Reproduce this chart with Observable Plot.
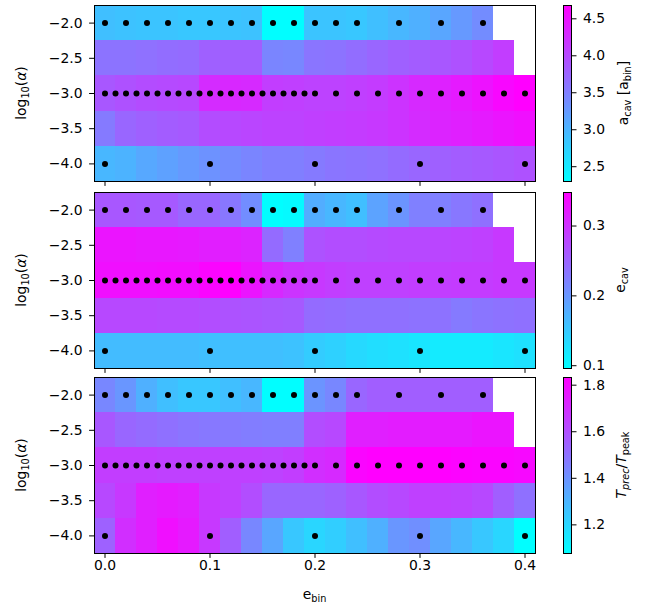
<!DOCTYPE html>
<html><head><meta charset="utf-8">
<script src="https://cdn.jsdelivr.net/npm/d3@7"></script>
<script src="https://cdn.jsdelivr.net/npm/@observablehq/plot@0.6"></script>
<style>
body{margin:0;background:#fff;}
#fig{position:relative;width:649px;height:610px;font-family:"DejaVu Sans",sans-serif;color:#000;overflow:hidden;}
#fig svg{position:absolute;overflow:visible;}
.lab{position:absolute;font-size:13.9px;white-space:nowrap;line-height:1;}
.rot{transform:translate(-50%,-50%) rotate(-90deg);}
.ctr{transform:translate(-50%,-50%);}
.sb{font-size:0.7em;vertical-align:-0.28em;}
</style></head><body><div id="fig"></div>
<script>
// ---------- data ----------
const eCells = [0,0.02,0.04,0.06,0.08,0.10,0.12,0.14,0.16,0.18,0.20,0.22,0.24,0.26,0.28,0.30,0.32,0.34,0.36,0.38,0.40];
const logAlphaRows = [-2,-2.5,-3,-3.5,-4];
const xTicks = [0,0.1,0.2,0.3,0.4];
const yTicks = [-4,-3.5,-3,-2.5,-2];

// simulated points
const dotE_m2 = [0,0.02,0.04,0.06,0.08,0.10,0.12,0.14,0.16,0.18,0.20,0.22,0.24,0.28,0.32,0.36];
const dotE_m3 = [0,0.01,0.02,0.03,0.04,0.05,0.06,0.07,0.08,0.09,0.10,0.11,0.12,0.13,0.14,0.15,0.16,0.17,0.18,0.19,0.20,0.22,0.24,0.26,0.28,0.30,0.32,0.34,0.36,0.38,0.40];
const dotE_m4 = [0,0.1,0.2,0.3,0.4];

// panel 1: a_cav [a_bin], rows log10(alpha) = -2, -2.5, -3, -3.5, -4
const aCav = [
  [2.90,2.87,2.85,2.85,2.82,2.82,2.85,2.87,2.31,2.31,2.85,2.85,2.82,2.90,2.97,3.04,3.13,3.25,3.37],
  [3.61,3.61,3.63,3.66,3.68,3.78,3.80,3.80,3.44,3.42,3.59,3.61,3.66,3.73,3.78,3.82,3.87,3.92,4.01,4.11],
  [3.87,3.92,3.97,3.99,4.01,4.28,4.32,4.30,4.11,4.09,4.06,4.06,4.09,4.13,4.20,4.30,4.37,4.44,4.51,4.61,4.68],
  [3.54,3.73,3.78,3.82,3.85,3.97,4.01,4.04,4.06,4.06,4.09,4.11,4.13,4.16,4.20,4.28,4.35,4.39,4.44,4.49,4.54],
  [2.97,3.01,3.11,3.18,3.25,3.32,3.37,3.44,3.49,3.49,3.54,3.59,3.61,3.63,3.68,3.73,3.78,3.82,3.85,3.89,3.92]
];
const aCavDomain = [2.30, 4.68];
const aCavTicks = [2.5,3.0,3.5,4.0,4.5];

// panel 2: e_cav
const eCav = [
  [0.262,0.262,0.260,0.260,0.247,0.247,0.230,0.209,0.097,0.101,0.177,0.167,0.159,0.187,0.202,0.222,0.222,0.230,0.237],
  [0.328,0.328,0.325,0.325,0.323,0.318,0.318,0.313,0.242,0.222,0.267,0.272,0.272,0.275,0.277,0.277,0.280,0.282,0.285,0.293],
  [0.333,0.333,0.333,0.335,0.335,0.343,0.348,0.328,0.308,0.298,0.293,0.288,0.285,0.285,0.285,0.288,0.288,0.290,0.290,0.293,0.293],
  [0.277,0.277,0.277,0.275,0.275,0.272,0.267,0.265,0.262,0.260,0.242,0.240,0.237,0.237,0.237,0.235,0.235,0.227,0.232,0.235,0.237],
  [0.162,0.162,0.162,0.162,0.162,0.159,0.159,0.159,0.159,0.156,0.146,0.141,0.134,0.129,0.126,0.121,0.116,0.116,0.116,0.121,0.126]
];
const eCavDomain = [0.096, 0.348];
const eCavTicks = [0.1,0.2,0.3];

// panel 3: T_prec / T_peak
const tRatio = [
  [1.432,1.387,1.311,1.266,1.243,1.243,1.266,1.289,1.080,1.080,1.395,1.432,1.531,1.553,1.553,1.553,1.553,1.553,1.553],
  [1.576,1.531,1.515,1.500,1.485,1.478,1.470,1.463,1.455,1.455,1.606,1.621,1.742,1.742,1.750,1.750,1.757,1.757,1.773,1.773],
  [1.652,1.652,1.652,1.644,1.644,1.644,1.644,1.644,1.636,1.652,1.697,1.712,1.818,1.833,1.833,1.833,1.833,1.825,1.818,1.818,1.810],
  [1.621,1.667,1.742,1.757,1.742,1.667,1.644,1.606,1.531,1.531,1.531,1.546,1.576,1.606,1.621,1.644,1.644,1.636,1.621,1.553,1.500],
  [1.546,1.697,1.742,1.788,1.757,1.667,1.553,1.432,1.342,1.243,1.198,1.221,1.266,1.311,1.387,1.410,1.342,1.289,1.243,1.198,1.080]
];
const tRatioDomain = [1.077, 1.833];
const tRatioTicks = [1.2,1.4,1.6,1.8];

// ---------- drawing ----------
const fig = document.getElementById("fig");
const cellW = 0.02, cellH = 0.5;
const panelTops = [5, 192, 377];
const PH = 176;
const font = '"DejaVu Sans", sans-serif';
const fmt1 = d3.format(".1f");

function cellsFrom(grid) {
  const out = [];
  grid.forEach((row, r) => row.forEach((v, c) => {
    if (v != null) out.push({e: eCells[c], la: logAlphaRows[r], v});
  }));
  return out;
}
const dots = [
  ...dotE_m2.map(e => ({e, la: logAlphaRows[0]})),
  ...dotE_m3.map(e => ({e, la: logAlphaRows[2]})),
  ...dotE_m4.map(e => ({e, la: logAlphaRows[4]}))
];
function colorScale(dom) {
  return {type: "linear", domain: dom, range: ["#00ffff", "#ff00ff"], interpolate: "rgb", clamp: true};
}

function panel(grid, dom, i) {
  const last = i === 2;
  const mt = 2, mb = last ? 40 : 8;
  const p = Plot.plot({
    width: 545, height: PH + mt + mb,
    marginLeft: 94, marginRight: 10, marginTop: mt, marginBottom: mb,
    style: {fontFamily: font, fontSize: "13.9px", color: "black", background: "none", overflow: "visible"},
    x: {domain: [-0.01, 0.41]},
    y: {domain: [-4.25, -1.75]},
    color: colorScale(dom),
    marks: [
      Plot.rect(cellsFrom(grid), {
        x1: d => d.e - cellW / 2, x2: d => d.e + cellW / 2,
        y1: d => d.la - cellH / 2, y2: d => d.la + cellH / 2,
        fill: "v", shapeRendering: "crispEdges"
      }),
      Plot.dot(dots, {x: "e", y: "la", r: 3, fill: "black"}),
      Plot.frame({stroke: "black", strokeWidth: 1}),
      Plot.axisY({ticks: yTicks, tickFormat: fmt1, tickSize: 4.9, tickPadding: 7, label: null}),
      Plot.axisX({ticks: xTicks, tickFormat: last ? fmt1 : () => "", tickSize: 4.9, tickPadding: 1.5, label: null})
    ]
  });
  p.style.left = "0px";
  p.style.top = (panelTops[i] - mt) + "px";
  fig.appendChild(p);
}

function colorbar(dom, ticks, i) {
  const mt = 2, mb = 8, n = 160;
  const steps = d3.range(n).map(k => ({
    y1: dom[0] + (dom[1] - dom[0]) * k / n,
    y2: dom[0] + (dom[1] - dom[0]) * (k + 1) / n
  }));
  const p = Plot.plot({
    width: 104, height: PH + mt + mb,
    marginLeft: 18, marginRight: 78, marginTop: mt, marginBottom: mb,
    style: {fontFamily: font, fontSize: "13.9px", color: "black", background: "none", overflow: "visible"},
    x: {domain: [0, 1], axis: null},
    y: {domain: dom},
    color: colorScale(dom),
    marks: [
      Plot.rect(steps, {x1: 0, x2: 1, y1: "y1", y2: "y2", fill: d => (d.y1 + d.y2) / 2, shapeRendering: "crispEdges"}),
      Plot.frame({stroke: "black", strokeWidth: 1}),
      Plot.axisY({anchor: "right", ticks, tickFormat: fmt1, tickSize: 4.5, tickPadding: 7, label: null})
    ]
  });
  p.style.left = "545px";
  p.style.top = (panelTops[i] - mt) + "px";
  fig.appendChild(p);
}

panel(aCav, aCavDomain, 0);
panel(eCav, eCavDomain, 1);
panel(tRatio, tRatioDomain, 2);
colorbar(aCavDomain, aCavTicks, 0);
colorbar(eCavDomain, eCavTicks, 1);
colorbar(tRatioDomain, tRatioTicks, 2);

function label(html, x, y, cls) {
  const d = document.createElement("div");
  d.className = "lab " + cls;
  d.style.left = x + "px";
  d.style.top = y + "px";
  d.innerHTML = html;
  fig.appendChild(d);
}
const ylab = 'log<span class="sb">10</span>(<i>α</i>)';
panelTops.forEach(t => label(ylab, 22.5, t + PH / 2, "rot"));
label('a<span class="sb">cav</span> [a<span class="sb">bin</span>]', 625, panelTops[0] + PH / 2, "rot");
label('e<span class="sb">cav</span>', 622, panelTops[1] + PH / 2, "rot");
label('<i>T<span class="sb">prec</span></i>/<i>T</i><span class="sb">peak</span>', 622.5, panelTops[2] + PH / 2, "rot");
label('e<span class="sb">bin</span>', 314.5, 596, "ctr");
</script>
</body></html>
